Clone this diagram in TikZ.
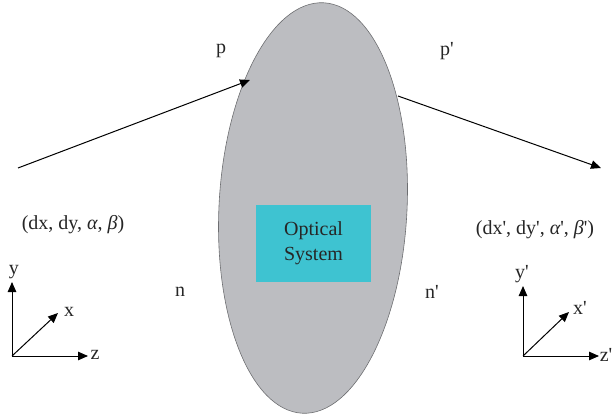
\documentclass[tikz,border=0pt]{standalone}
\usepackage{fontspec}
\setmainfont{Liberation Serif}
\usetikzlibrary{arrows.meta}
\definecolor{lensgray}{HTML}{BCBDC1}
\definecolor{lensedge}{HTML}{6D6E71}
\definecolor{boxcyan}{HTML}{3EC3D1}
\begin{document}
\begin{tikzpicture}[x=1pt,y=-1pt,
  lbl/.style={font=\fontsize{20}{23}\selectfont, text=black!85, inner sep=0pt},
  ray/.style={line width=1pt, -{Triangle[length=10pt,width=8.5pt]}},
  ax/.style={line width=1pt, -{Triangle[length=10pt,width=8.5pt]}}]
\useasboundingbox (0,0) rectangle (613,417);
% optical system ellipse
\draw[fill=lensgray, draw=lensedge, line width=0.6pt, rotate around={-3:(313,208)}] (313,208) ellipse (94 and 205.5);
\node[fill=boxcyan, minimum width=115pt, minimum height=77pt, inner sep=0pt, align=center,
  font=\fontsize{20}{25}\selectfont, text=black!85] (os) at (313.5,243.5) {Optical\\System};
% rays
\coordinate (inS) at (18,168);
\coordinate (inE) at (250,80);
\coordinate (outS) at (398,96);
\coordinate (outE) at (601,168);
\draw[ray] (inS) -- (inE);
\draw[ray] (outS) -- (outE);
% labels
\node[lbl] (p) at (221,51) {p};
\node[lbl] (pp) at (447,51) {p\textquotesingle};
\node[lbl] (in) at (73,225) {(dx, dy, {\itshape α}, {\itshape β})};
\node[lbl] (out) at (535,230) {(dx\textquotesingle, dy\textquotesingle, {\itshape α}\textquotesingle, {\itshape β}\textquotesingle)};
\node[lbl] (n) at (180,292) {n};
\node[lbl] (np) at (432,292) {n\textquotesingle};
% left axes
\coordinate (o1) at (12,356);
\coordinate (y1) at (12,282);
\coordinate (z1) at (88,356);
\coordinate (x1) at (58,313);
\draw[ax] (o1) -- (y1);
\draw[ax] (o1) -- (z1);
\draw[ax] (o1) -- (x1);
\node[lbl] (ly1) at (14,272) {y};
\node[lbl] (lz1) at (95,355) {z};
\node[lbl] (lx1) at (69,312) {x};
% right axes
\coordinate (o2) at (523,356);
\coordinate (y2) at (523,286);
\coordinate (z2) at (599,356);
\coordinate (x2) at (569,312);
\draw[ax] (o2) -- (y2);
\draw[ax] (o2) -- (z2);
\draw[ax] (o2) -- (x2);
\node[lbl] (ly2) at (522,274) {y\textquotesingle};
\node[lbl] (lz2) at (606,355) {z\textquotesingle};
\node[lbl] (lx2) at (580,308) {x\textquotesingle};
\end{tikzpicture}
\end{document}
